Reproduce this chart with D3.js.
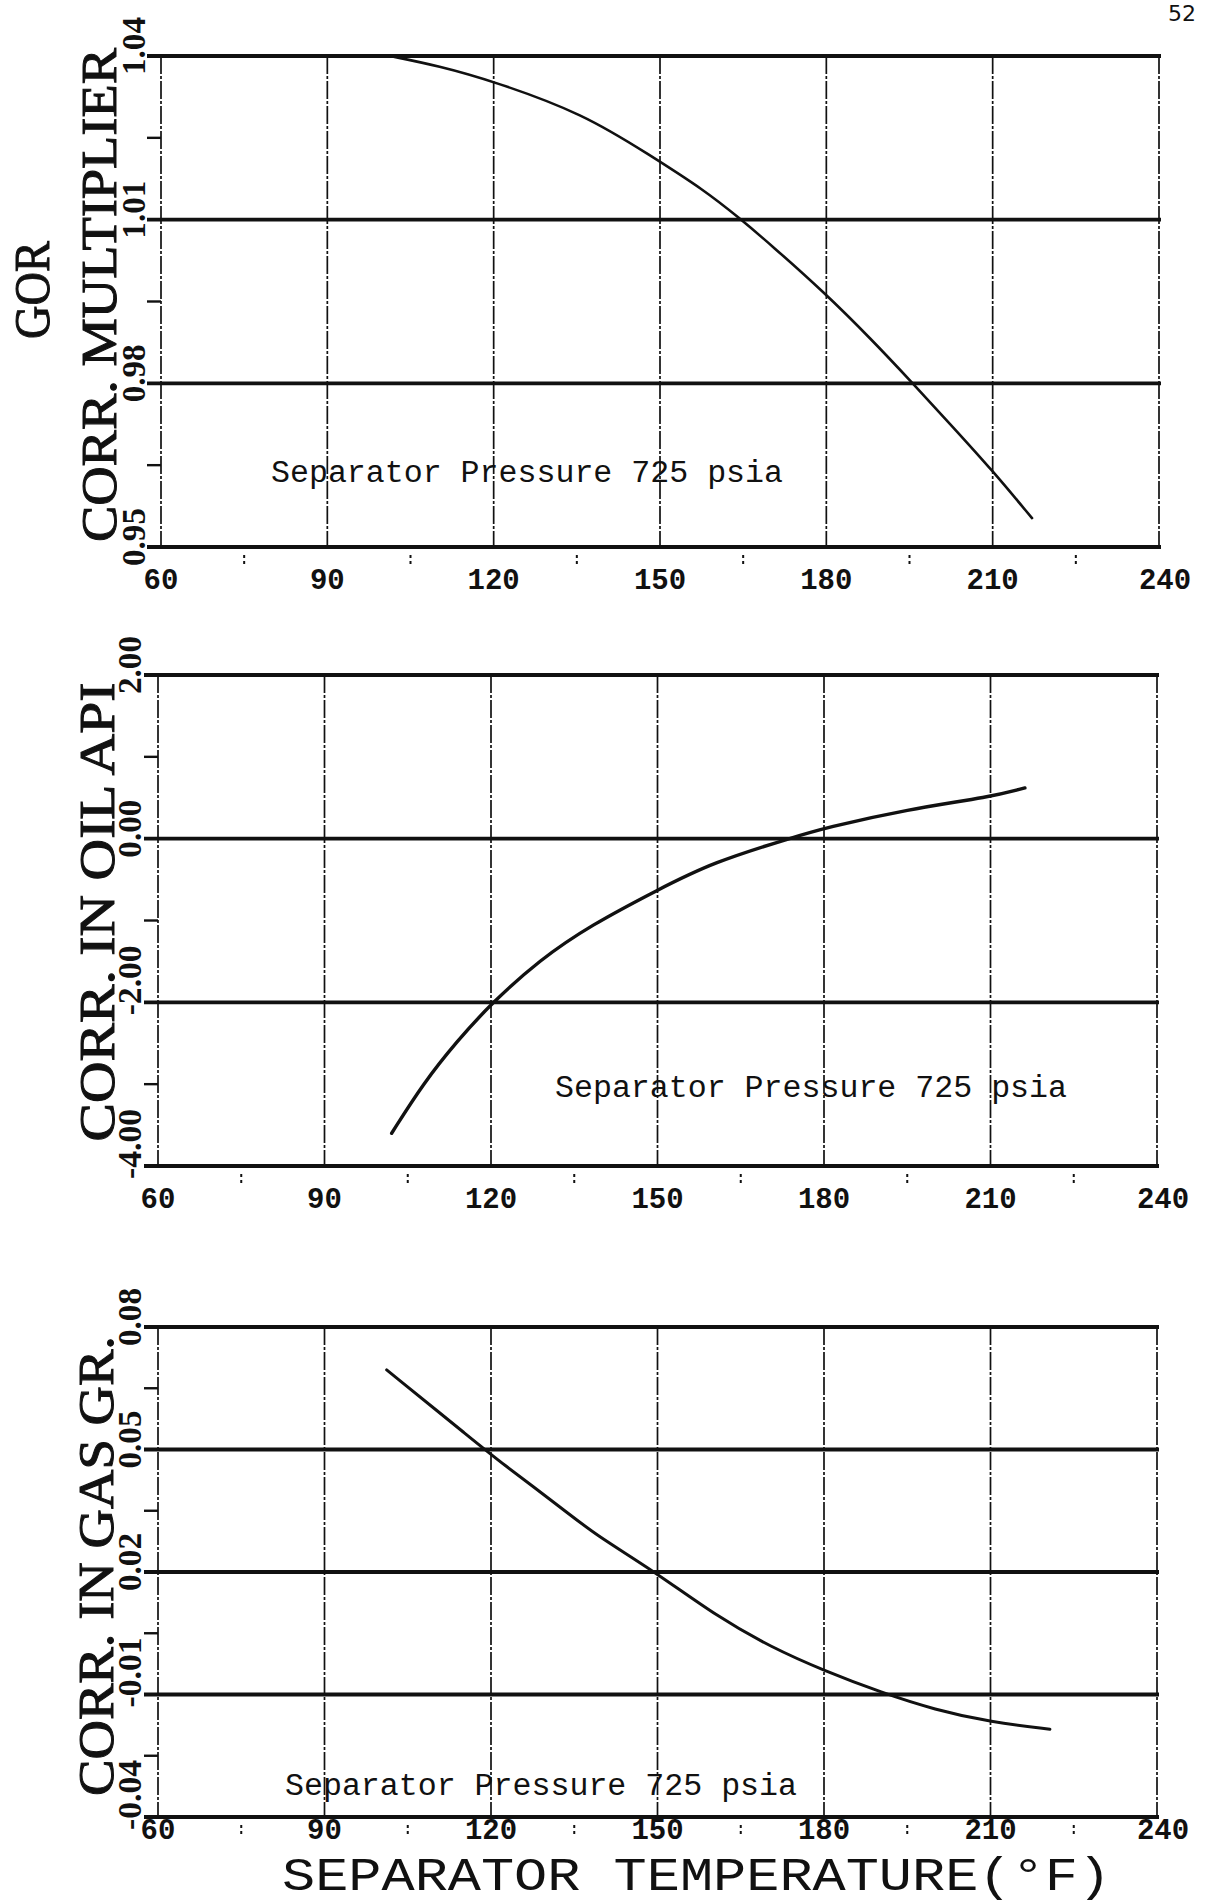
<!DOCTYPE html>
<html>
<head>
<meta charset="utf-8">
<script src="https://cdn.jsdelivr.net/npm/d3@7/dist/d3.min.js"></script>
<style>
	body { margin: 0; background: #fff; }
	svg { display: block; }
	.ytick { font-family: "Liberation Serif", serif; font-weight: bold; font-size: 33px; fill: #111; }
	.xtick { font-family: "Liberation Mono", monospace; font-weight: bold; font-size: 29px; fill: #111; }
	.note { font-family: "Liberation Mono", monospace; font-size: 31px; fill: #111; }
	.ytitle { font-family: "Liberation Serif", serif; font-size: 50px; fill: #111; stroke: #111; stroke-width: 1; }
	.xtitle { font-family: "Liberation Mono", monospace; font-size: 47px; fill: #111; }
</style>
</head>
<body>
<div id="canvas"></div>
<script>
// separator temperature axis (deg F)
var tempTicks = [60, 90, 120, 150, 180, 210, 240];
var tempMinor = [75, 105, 135, 165, 195, 225];

// GOR correction multiplier
var gorTicks = [0.95, 0.98, 1.01, 1.04];
var gorMinor = [0.965, 0.995, 1.025];
var gorTemp = [101.3, 110, 120.2, 136.2, 148.2, 158, 164.3, 170, 179.8, 188, 195.6, 203, 209.8, 217.1];
var gorMult = [1.0400, 1.0382, 1.0353, 1.0294, 1.0218, 1.0154, 1.0103, 1.0054, 0.9965, 0.9882, 0.9800, 0.9718, 0.9642, 0.9553];

// correction in oil API
var apiTicks = [-4, -2, 0, 2];
var apiMinor = [-3, -1, 1];
var apiTemp = [102.1, 107.8, 113.8, 120.1, 128.8, 137.9, 150.2, 159.9, 174.6, 180.1, 195.0, 210.1, 216.2];
var apiCorr = [-3.60, -2.99, -2.48, -2.01, -1.48, -1.06, -0.62, -0.29, 0.02, 0.13, 0.36, 0.51, 0.62];

// correction in gas gravity
var gasTicks = [-0.04, -0.01, 0.02, 0.05, 0.08];
var gasMinor = [-0.025, 0.005, 0.035, 0.065];
var gasTemp = [101.2, 116.8, 121.6, 133.0, 138.7, 149.3, 160.8, 170.6, 179.9, 190.5, 199.9, 210.1, 220.7];
var gasCorr = [0.0695, 0.0523, 0.0470, 0.0354, 0.0292, 0.0203, 0.0090, 0.0015, -0.0041, -0.0096, -0.0137, -0.0168, -0.0185];

var noteText = "Separator Pressure 725 psia";

var w = 1209, h = 1904;

var svg = d3.select("#canvas")
	.append("svg")
	.attr("width", w)
	.attr("height", h);

var panels = [
	{top: 56, bottom: 547, left: 161, right: 1159, ticks: gorTicks, minor: gorMinor,
	 temps: gorTemp, vals: gorMult, lw: 2.6, labX: 145, xlabDy: 42, titleX: 116,
	 title: "CORR. MULTIPLIER", titleY: 295, titleLen: 494,
	 noteX: 271, noteY: 482},
	{top: 675, bottom: 1166, left: 158, right: 1157, ticks: apiTicks, minor: apiMinor,
	 temps: apiTemp, vals: apiCorr, lw: 3.4, labX: 141, xlabDy: 42, titleX: 114,
	 title: "CORR. IN OIL API", titleY: 912, titleLen: 459,
	 noteX: 555, noteY: 1097},
	{top: 1327, bottom: 1817, left: 158, right: 1157, ticks: gasTicks, minor: gasMinor,
	 temps: gasTemp, vals: gasCorr, lw: 3, labX: 141, xlabDy: 22, titleX: 113,
	 title: "CORR. IN GAS GR.", titleY: 1566, titleLen: 460,
	 noteX: 285, noteY: 1795}
];

panels.forEach(function(p){
	var x = d3.scaleLinear().domain([60, 240]).range([p.left, p.right]);
	var y = d3.scaleLinear().domain(d3.extent(p.ticks)).range([p.bottom, p.top]);
	var g = svg.append("g");

	// dashed verticals, the 60 and 240 ones are the frame
	g.selectAll(".vgrid")
		.data(tempTicks)
		.enter()
		.append("line")
		.attr("x1", function(d){ return x(d); })
		.attr("x2", function(d){ return x(d); })
		.attr("y1", p.top)
		.attr("y2", p.bottom)
		.attr("stroke", "#111")
		.attr("stroke-width", 1.7)
		.attr("stroke-dasharray", "18,2,3,2");

	// heavy horizontals
	g.selectAll(".hgrid")
		.data(p.ticks)
		.enter()
		.append("line")
		.attr("x1", p.left - 14)
		.attr("x2", p.right + 2)
		.attr("y1", function(d){ return y(d); })
		.attr("y2", function(d){ return y(d); })
		.attr("stroke", "#111")
		.attr("stroke-width", 3.8);

	// small ticks on the left
	g.selectAll(".ymin")
		.data(p.minor)
		.enter()
		.append("line")
		.attr("x1", p.left - 14)
		.attr("x2", p.left)
		.attr("y1", function(d){ return y(d); })
		.attr("y2", function(d){ return y(d); })
		.attr("stroke", "#111")
		.attr("stroke-width", 2.4);

	// dotted ticks under the axis
	g.selectAll(".xmin")
		.data(tempMinor)
		.enter()
		.append("line")
		.attr("x1", function(d){ return x(d); })
		.attr("x2", function(d){ return x(d); })
		.attr("y1", p.bottom + 8)
		.attr("y2", p.bottom + 17)
		.attr("stroke", "#111")
		.attr("stroke-width", 2)
		.attr("stroke-dasharray", "3,3");

	g.selectAll(".ylab")
		.data(p.ticks)
		.enter()
		.append("text")
		.attr("class", "ytick")
		.attr("text-anchor", "middle")
		.attr("transform", function(d){
			var s = d.toFixed(2);
			return "translate(" + p.labX + "," + (y(d) - (s.length > 4 ? 22 : 10)) + ") rotate(-90)";
		})
		.attr("textLength", function(d){ return d.toFixed(2).length > 4 ? 70 : 58; })
		.attr("lengthAdjust", "spacingAndGlyphs")
		.text(function(d){ return d.toFixed(2); });

	g.selectAll(".xlab")
		.data(tempTicks)
		.enter()
		.append("text")
		.attr("class", "xtick")
		.attr("text-anchor", "middle")
		.attr("x", function(d){ return x(d) + (d === 240 ? 6 : 0); })
		.attr("y", p.bottom + p.xlabDy)
		.text(function(d){ return d; });

	var line = d3.line()
		.x(function(d){ return x(d[0]); })
		.y(function(d){ return y(d[1]); })
		.curve(d3.curveBasis);

	g.append("path")
		.datum(d3.zip(p.temps, p.vals))
		.attr("d", line)
		.attr("fill", "none")
		.attr("stroke", "#111")
		.attr("stroke-width", p.lw)
		.attr("stroke-linecap", "round");

	g.append("text")
		.attr("class", "note")
		.attr("x", p.noteX)
		.attr("y", p.noteY)
		.attr("textLength", 512)
		.attr("lengthAdjust", "spacingAndGlyphs")
		.text(noteText);

	g.append("text")
		.attr("class", "ytitle")
		.attr("text-anchor", "middle")
		.attr("transform", "translate(" + p.titleX + "," + p.titleY + ") rotate(-90)")
		.attr("textLength", p.titleLen)
		.attr("lengthAdjust", "spacingAndGlyphs")
		.text(p.title);
});

svg.append("text")
	.attr("class", "ytitle")
	.attr("text-anchor", "middle")
	.attr("font-size", 46)
	.attr("transform", "translate(49,290) rotate(-90)")
	.attr("textLength", 98)
	.attr("lengthAdjust", "spacingAndGlyphs")
	.text("GOR");

svg.append("text")
	.attr("class", "xtitle")
	.attr("x", 282)
	.attr("y", 1890)
	.attr("textLength", 829)
	.attr("lengthAdjust", "spacingAndGlyphs")
	.text("SEPARATOR TEMPERATURE(\u00B0F)");

svg.append("text")
	.attr("x", 1196)
	.attr("y", 21)
	.attr("text-anchor", "end")
	.attr("font-family", "DejaVu Sans, sans-serif")
	.attr("font-size", 22)
	.attr("fill", "#111")
	.text("52");
</script>
</body>
</html>
